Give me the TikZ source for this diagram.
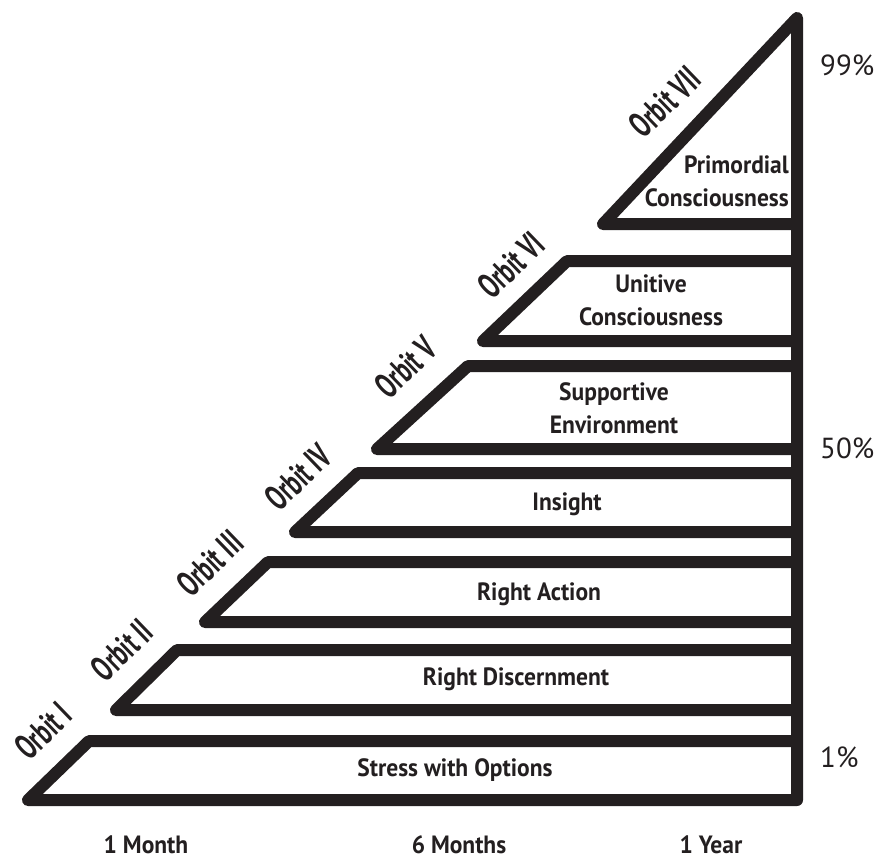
\documentclass[tikz,border=0pt]{standalone}
\usepackage{fontspec}
\setmainfont{PT Sans}
\newfontfamily\labfont[FakeStretch=0.94]{PT Sans}
\newfontfamily\orbfont[FakeStretch=0.64]{PT Sans}
\definecolor{ink}{HTML}{231F20}
\begin{document}
\begin{tikzpicture}[x=1pt,y=-1pt,
  band/.style={draw=ink, line width=12pt, line join=round},
  lab/.style={font=\labfont\bfseries\fontsize{25}{33}\selectfont, align=center, inner sep=0pt, text=ink},
  orb/.style={font=\orbfont\bfseries\fontsize{36}{36}\selectfont, rotate=44, inner sep=0pt, text=ink},
  pct/.style={font=\fontsize{29}{29}\selectfont, anchor=west, inner sep=0pt, text=ink}]
\useasboundingbox (0,0) rectangle (880,860);
% outer frame: bottom band, right line and top triangle
\draw[band] (797,741) -- (89,741) -- (28,800) -- (797,800) -- (797,18) -- (603,224) -- (797,224);
% other bands
\draw[band] (797,650) -- (177,650) -- (116,710) -- (797,710);
\draw[band] (797,562) -- (268,562) -- (205,622) -- (797,622);
\draw[band] (797,473) -- (358,473) -- (295,532) -- (797,532);
\draw[band] (797,366) -- (468,366) -- (377,449) -- (797,449);
\draw[band] (797,261) -- (567,261) -- (483,341) -- (797,341);
% band labels
\node[lab] (l1) at (455,770) {Stress with Options};
\node[lab] (l2) at (516,679) {Right Discernment};
\node[lab] (l3) at (539,594) {Right Action};
\node[lab] (l4) at (567,504) {Insight};
\node[lab] (l5) at (614,408) {Supportive\\Environment};
\node[lab] (l6) at (651,300) {Unitive\\Consciousness};
\node[lab, align=right, anchor=east] (l7) at (789,181) {Primordial\\Consciousness};
% orbit labels
\node[orb] (o1) at (43,731) {Orbit I};
\node[orb] (o2) at (122,650) {Orbit II};
\node[orb] (o3) at (210,563) {Orbit III};
\node[orb] (o4) at (298,477) {Orbit IV};
\node[orb] (o5) at (406,367) {Orbit V};
\node[orb] (o6) at (511,265) {Orbit VI};
\node[orb] (o7) at (665,102) {Orbit VII};
% axis labels
\node[lab] (t1) at (146,845) {1 Month};
\node[lab] (t2) at (459,845) {6 Months};
\node[lab] (t3) at (711,845) {1 Year};
\node[pct] (p99) at (820,65) {99\%};
\node[pct] (p50) at (820,448) {50\%};
\node[pct] (p1) at (820,757) {1\%};
\end{tikzpicture}
\end{document}
